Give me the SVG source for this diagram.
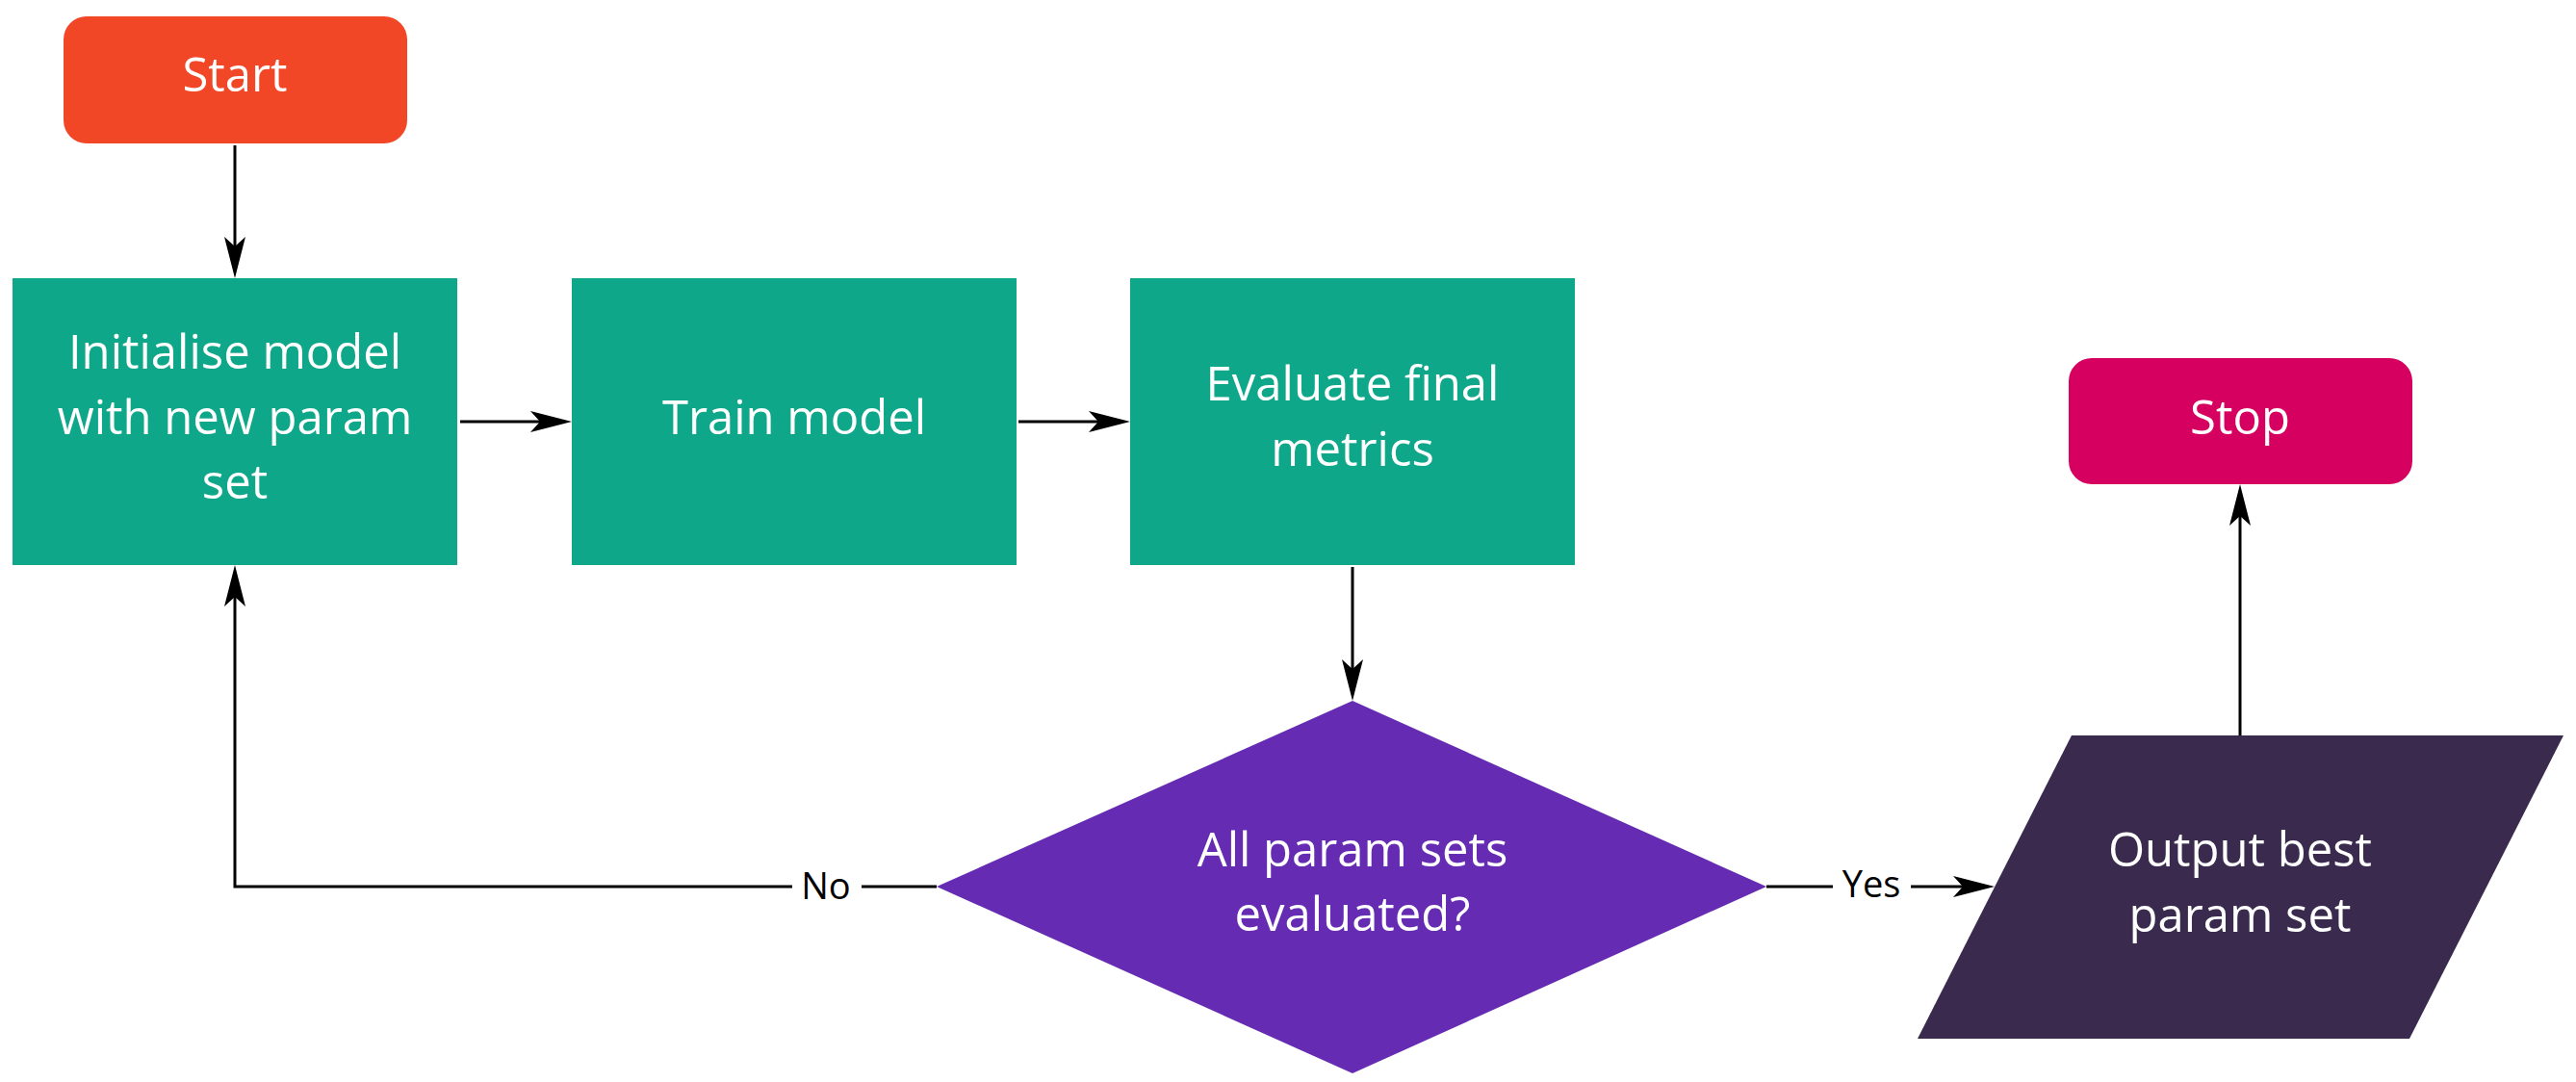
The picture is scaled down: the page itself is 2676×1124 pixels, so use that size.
<svg xmlns="http://www.w3.org/2000/svg" width="2676" height="1124" viewBox="0 0 2676 1124">
  <style>
    .t { font-family: "Open Sans", "Noto Sans", "Liberation Sans", sans-serif; font-size: 49px; fill: #ffffff; text-anchor: middle; }
    .lbl { font-family: "Open Sans", "Noto Sans", "Liberation Sans", sans-serif; font-size: 38px; fill: #000000; text-anchor: middle; }
    .edge { fill: none; stroke: #000000; stroke-width: 3; }
    .proc { fill: #0FA78A; }
  </style>
  <defs>
    <marker id="arrow" markerUnits="userSpaceOnUse" markerWidth="46" markerHeight="24" refX="10" refY="11" orient="auto">
      <path d="M0,0 L43,11 L0,22 L10,11 Z" fill="#000000"/>
    </marker>
  </defs>
  <rect width="2676" height="1124" fill="#ffffff"/>

  <g id="connectors">
    <path class="edge" d="M244,151 L244,256" marker-end="url(#arrow)"/>
    <path class="edge" d="M478,438 L561,438" marker-end="url(#arrow)"/>
    <path class="edge" d="M1058,438 L1141,438" marker-end="url(#arrow)"/>
    <path class="edge" d="M1405,589 L1405,695" marker-end="url(#arrow)"/>
    <path class="edge" d="M973,921 L244,921 L244,620" marker-end="url(#arrow)"/>
    <rect x="823" y="890" width="72" height="55" fill="#ffffff"/>
    <text class="lbl" x="858" y="934">No</text>
    <path class="edge" d="M1835,921 L2039,921" marker-end="url(#arrow)"/>
    <rect x="1904" y="890" width="81" height="55" fill="#ffffff"/>
    <text class="lbl" x="1944" y="932">Yes</text>
    <path class="edge" d="M2327,764 L2327,536" marker-end="url(#arrow)"/>
  </g>

  <g id="start">
    <rect x="66" y="17" width="357" height="132" rx="24" ry="24" fill="#F24726"/>
    <text class="t" x="244" y="95">Start</text>
  </g>

  <g id="init">
    <rect class="proc" x="13" y="289" width="462" height="298"/>
    <text class="t" x="244" y="383">Initialise model</text>
    <text class="t" x="244" y="451">with new param</text>
    <text class="t" x="244" y="518">set</text>
  </g>

  <g id="train">
    <rect class="proc" x="594" y="289" width="462" height="298"/>
    <text class="t" x="825" y="451">Train model</text>
  </g>

  <g id="evaluate">
    <rect class="proc" x="1174" y="289" width="462" height="298"/>
    <text class="t" x="1405" y="416">Evaluate final</text>
    <text class="t" x="1405" y="484">metrics</text>
  </g>

  <g id="decision">
    <polygon points="1405,728 1835,921 1405,1115 973,921" fill="#652CB3"/>
    <text class="t" x="1405" y="900">All param sets</text>
    <text class="t" x="1405" y="967">evaluated?</text>
  </g>

  <g id="output">
    <polygon points="2152,764 2663,764 2503,1079 1992,1079" fill="#3A2B4E"/>
    <text class="t" x="2327" y="900">Output best</text>
    <text class="t" x="2327" y="968">param set</text>
  </g>

  <g id="stop">
    <rect x="2149" y="372" width="357" height="131" rx="24" ry="24" fill="#D5005F"/>
    <text class="t" x="2327" y="451">Stop</text>
  </g>
</svg>
